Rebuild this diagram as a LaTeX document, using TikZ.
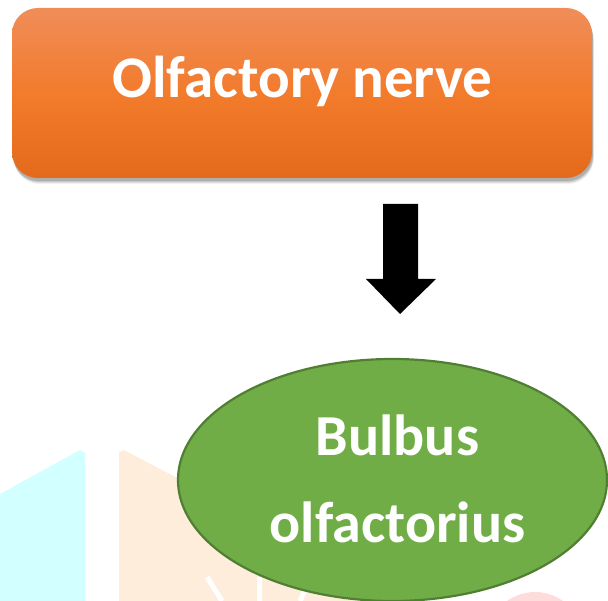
\documentclass[tikz,border=0pt]{standalone}
\usepackage{fontspec}
\setmainfont{Carlito}
\usetikzlibrary{shapes.geometric}
\definecolor{orTop}{HTML}{F08D58}
\definecolor{orMid}{HTML}{F27B2C}
\definecolor{orBot}{HTML}{E46A1B}
\definecolor{grFill}{HTML}{70AD47}
\definecolor{grLine}{HTML}{507E32}
\definecolor{wmCyan}{HTML}{D2FFFF}
\definecolor{wmPeach}{HTML}{FFEDDC}
\definecolor{wmPink}{HTML}{FFDCDC}
\tikzset{
  boxtext/.style={text=white,font=\fontsize{59}{64}\selectfont\bfseries},
  ovaltext/.style={text=white,font=\fontsize{58}{64}\selectfont\bfseries},
}
\begin{document}
\begin{tikzpicture}[x=1pt,y=-1pt]
\useasboundingbox (0,0) rectangle (608,601);
\clip (0,0) rectangle (608,601);
% faint background watermark shapes
\fill[wmCyan] (0,494) -- (80,450) -- (85,453) -- (85,601) -- (0,601) -- cycle;
\fill[wmPeach] (119,601) -- (119,452) -- (124,450) -- (200,490) -- (330,560) -- (380,601) -- cycle;
\fill[wmPink] (535,640) circle (48);
\draw[white,line width=5pt] (207,577) -- (222,601);
\draw[white,line width=5pt] (259,577) -- (259,601);
\draw[white,line width=5pt] (300,601) -- (305,590);
% shadow of the top box
\foreach \o/\a in {6/0.06,5/0.08,4/0.10,3/0.12}{
  \fill[black,opacity=\a,rounded corners=26pt] (12+\o*0.3,8+\o) rectangle (592+\o*0.3,178+\o);
}
% top box
\node[draw=none,rounded corners=26pt,minimum width=580pt,minimum height=170pt,inner sep=0pt,
      top color=orTop,bottom color=orBot,middle color=orMid] (on) at (302,93) {};
\node[boxtext,anchor=base] (ont) at (302.5,98) {Olfactory nerve};
% block arrow
\fill[black] (383,204) -- (418,204) -- (418,279) -- (436,279) -- (400,314) -- (366,279) -- (383,279) -- cycle;
% green ellipse
\node[ellipse,draw=grLine,line width=2.2pt,fill=grFill,minimum width=429pt,minimum height=242pt,inner sep=0pt] (bo) at (392.5,480) {};
\node[ovaltext,anchor=base] (bot1) at (397.5,456) {Bulbus};
\node[ovaltext,anchor=base] (bot2) at (397.5,542) {olfactorius};
\end{tikzpicture}
\end{document}
